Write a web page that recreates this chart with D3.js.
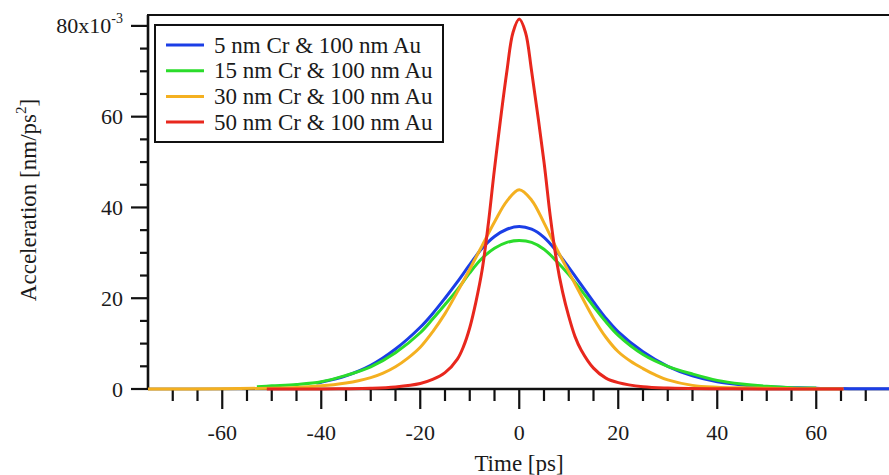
<!DOCTYPE html>
<html>
<head>
<meta charset="utf-8">
<script src="https://cdn.jsdelivr.net/npm/d3@7"></script>
<style>
body { margin: 0; background: #fff; }
text { font-family: "Liberation Serif", "Times New Roman", serif; fill: #1a1a1a; }
</style>
</head>
<body>
<div id="chart"></div>
<script>
// Series names and colours
var names = ["5 nm Cr & 100 nm Au", "15 nm Cr & 100 nm Au", "30 nm Cr & 100 nm Au", "50 nm Cr & 100 nm Au"];
var colors = ["#1b3ee6", "#2bdc2b", "#f4b020", "#e8271d"];

// Time [ps] and acceleration [1e-3 nm/ps^2]
var time5 = [-41, -40, -35, -30, -25, -20, -17.5, -15, -12.5, -10, -7.5, -5, -2.5, 0, 2.5, 5, 7.5, 10, 12.5, 15, 17.5, 20, 25, 30, 35, 40, 45, 50, 55, 60, 65, 70, 75];
var accel5 = [1.3, 1.5, 2.9, 5.2, 8.8, 13.6, 16.6, 20.0, 23.6, 27.4, 31.0, 33.6, 35.2, 35.8, 35.2, 33.4, 30.4, 26.8, 23.0, 19.2, 15.6, 12.6, 8.2, 5.0, 2.9, 1.6, 0.9, 0.5, 0.3, 0.15, 0.1, 0.05, 0.03];

var time15 = [-53, -50, -45, -40, -35, -30, -25, -20, -17.5, -15, -12.5, -10, -7.5, -5, -2.5, 0, 2.5, 5, 7.5, 10, 12.5, 15, 17.5, 20, 25, 30, 35, 40, 45, 50, 55, 60];
var accel15 = [0.5, 0.7, 1.0, 1.6, 3.0, 4.9, 8.0, 12.4, 15.4, 18.6, 21.9, 25.6, 28.8, 31.0, 32.3, 32.7, 32.3, 30.8, 28.2, 25.2, 21.8, 18.2, 14.8, 11.8, 7.6, 5.0, 3.3, 1.9, 1.1, 0.6, 0.3, 0.2];

var time30 = [-75, -60, -50, -45, -40, -37.5, -35, -32.5, -30, -27.5, -25, -22.5, -20, -17.5, -15, -12.5, -10, -7.5, -5, -2.5, 0, 2.5, 5, 7.5, 10, 12.5, 15, 17.5, 20, 22.5, 25, 27.5, 30, 35, 40, 45, 50, 55, 60, 65.5];
var accel30 = [0, 0.05, 0.18, 0.35, 0.7, 0.95, 1.3, 1.8, 2.5, 3.5, 4.9, 6.8, 9.2, 12.6, 16.6, 21.4, 26.4, 31.6, 36.8, 41.4, 43.9, 41.6, 36.6, 31.0, 25.8, 20.6, 15.6, 11.4, 8.2, 6.1, 4.5, 3.1, 2.0, 0.8, 0.4, 0.25, 0.15, 0.1, 0.05, 0.05];

var time50 = [-51, -40, -35, -30, -25, -20, -17.5, -15, -12.5, -11.25, -10, -8.75, -7.5, -6.25, -5, -2.5, -1.25, 0, 1.25, 2.5, 5, 6.25, 7.5, 8.75, 10, 11.25, 12.5, 15, 17.5, 20, 25, 30, 40, 50, 65.5];
var accel50 = [0, 0.02, 0.05, 0.15, 0.45, 1.2, 2.1, 3.6, 6.6, 9.4, 13.5, 19.2, 26.2, 36.4, 48.5, 70.0, 78.6, 81.5, 78.6, 70.0, 50.0, 38.2, 28.5, 21.4, 16.0, 11.6, 8.6, 4.6, 2.4, 1.4, 0.5, 0.2, 0.05, 0.02, 0];

// Ticks
var xMajor = [-60, -40, -20, 0, 20, 40, 60];
var xMinor = [-70, -65, -55, -50, -45, -35, -30, -25, -15, -10, -5, 5, 10, 15, 25, 30, 35, 45, 50, 55, 65, 70];
var yMajor = [0, 20, 40, 60, 80];
var yMinor = [5, 10, 15, 25, 30, 35, 45, 50, 55, 65, 70, 75];

var width = 889, height = 475;
var pLeft = 148, pTop = 15, pBottom = 389, pRight = 890.5;

var svg = d3.select("#chart").append("svg")
    .attr("width", width)
    .attr("height", height);

var x = d3.scaleLinear().domain([-75, 75]).range([pLeft, pRight]);
var y = d3.scaleLinear().domain([0, 82.4]).range([pBottom, pTop]);

// Frame
svg.append("rect")
    .attr("x", pLeft).attr("y", pTop)
    .attr("width", pRight - pLeft).attr("height", pBottom - pTop)
    .attr("fill", "none").attr("stroke", "#111").attr("stroke-width", 2);

// Y ticks
svg.selectAll(".ymaj").data(yMajor).enter().append("line")
    .attr("x1", pLeft - 17).attr("x2", pLeft)
    .attr("y1", d => y(d)).attr("y2", d => y(d))
    .attr("stroke", "#111").attr("stroke-width", 2.2);
svg.selectAll(".ymin").data(yMinor).enter().append("line")
    .attr("x1", pLeft - 8).attr("x2", pLeft)
    .attr("y1", d => y(d)).attr("y2", d => y(d))
    .attr("stroke", "#111").attr("stroke-width", 2.2);
svg.selectAll(".ylab").data(yMajor.filter(d => d < 80)).enter().append("text")
    .attr("x", 123).attr("y", d => y(d) + 7.5)
    .attr("text-anchor", "end")
    .attr("font-size", 22)
    .text(d => d);
var top80 = svg.append("text")
    .attr("x", 123).attr("y", y(80) + 7.5)
    .attr("text-anchor", "end")
    .attr("font-size", 22);
top80.append("tspan").text("80x10");
top80.append("tspan").attr("font-size", 14).attr("dy", -10).text("-3");

// X ticks
svg.selectAll(".xmaj").data(xMajor).enter().append("line")
    .attr("x1", d => x(d)).attr("x2", d => x(d))
    .attr("y1", pBottom).attr("y2", pBottom + 20)
    .attr("stroke", "#111").attr("stroke-width", 2.2);
svg.selectAll(".xmin").data(xMinor).enter().append("line")
    .attr("x1", d => x(d)).attr("x2", d => x(d))
    .attr("y1", pBottom).attr("y2", pBottom + 12)
    .attr("stroke", "#111").attr("stroke-width", 2.2);
svg.selectAll(".xlab").data(xMajor).enter().append("text")
    .attr("x", d => x(d)).attr("y", 440)
    .attr("text-anchor", "middle")
    .attr("font-size", 22)
    .text(d => d);

// Axis lines (thicker)
svg.append("line").attr("x1", pLeft).attr("x2", width).attr("y1", pBottom).attr("y2", pBottom)
    .attr("stroke", "#111").attr("stroke-width", 2.6);
svg.append("line").attr("x1", pLeft).attr("x2", pLeft).attr("y1", pTop).attr("y2", pBottom + 1)
    .attr("stroke", "#111").attr("stroke-width", 2.6);

// Axis titles
svg.append("text")
    .attr("x", 519).attr("y", 471)
    .attr("text-anchor", "middle")
    .attr("font-size", 23)
    .text("Time [ps]");
var yt = svg.append("text")
    .attr("transform", "translate(36,200) rotate(-90)")
    .attr("text-anchor", "middle")
    .attr("font-size", 23);
yt.append("tspan").text("Acceleration [nm/ps");
yt.append("tspan").attr("font-size", 15).attr("dy", -10).text("2");
yt.append("tspan").attr("dy", 10).text("]");

// Curves
var series = [
    d3.zip(time5, accel5),
    d3.zip(time15, accel15),
    d3.zip(time30, accel30),
    d3.zip(time50, accel50)
];
var line = d3.line()
    .x(d => x(d[0]))
    .y(d => y(d[1]))
    .curve(d3.curveCatmullRom.alpha(0.5));

svg.append("clipPath").attr("id", "clip")
    .append("rect").attr("x", pLeft).attr("y", pTop).attr("width", pRight - pLeft).attr("height", pBottom - pTop + 2);

svg.append("g")
    .attr("clip-path", "url(#clip)")
    .selectAll("path")
    .data(series)
    .enter().append("path")
        .attr("d", line)
        .attr("fill", "none")
        .attr("stroke", (d, i) => colors[i])
        .attr("stroke-width", 3);

// Legend
var lg = svg.append("g");
lg.append("rect")
    .attr("x", 155).attr("y", 25)
    .attr("width", 288).attr("height", 117)
    .attr("fill", "#fff").attr("stroke", "#111").attr("stroke-width", 2);
var rows = lg.selectAll(".row").data(names).enter().append("g")
    .attr("transform", (d, i) => "translate(0," + (45 + i * 25.7) + ")");
rows.append("line")
    .attr("x1", 166).attr("x2", 204)
    .attr("stroke", (d, i) => colors[i])
    .attr("stroke-width", 3);
rows.append("text")
    .attr("x", 214).attr("y", 7.5)
    .attr("font-size", 23)
    .text(d => d);
</script>
</body>
</html>
